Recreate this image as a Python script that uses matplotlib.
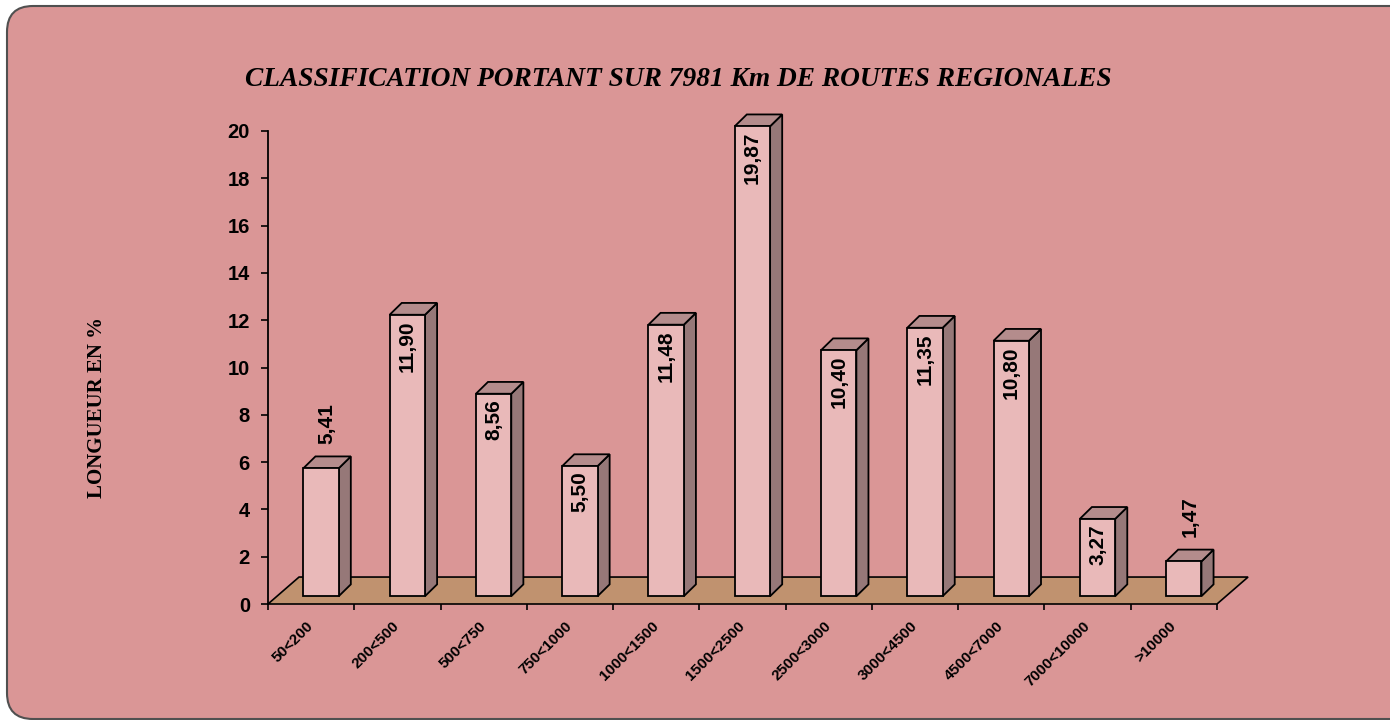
import matplotlib
matplotlib.use("Agg")
import matplotlib.pyplot as plt
from matplotlib.patches import Polygon, FancyBboxPatch

# data
categories = ["50<200", "200<500", "500<750", "750<1000", "1000<1500", "1500<2500",
              "2500<3000", "3000<4500", "4500<7000", "7000<10000", ">10000"]
values = [5.41, 11.90, 8.56, 5.50, 11.48, 19.87, 10.40, 11.35, 10.80, 3.27, 1.47]
value_labels = ["5,41", "11,90", "8,56", "5,50", "11,48", "19,87",
                "10,40", "11,35", "10,80", "3,27", "1,47"]
label_outside = [True, False, False, False, False, False,
                 False, False, False, False, True]
yticks = [0, 2, 4, 6, 8, 10, 12, 14, 16, 18, 20]

bg = "#DA9696"
front_c = "#E9B9B9"
side_c = "#967878"
top_c = "#B48C8C"
floor_c = "#C0926F"

fig = plt.figure(figsize=(13.9, 7.2), dpi=100)
fig.patch.set_facecolor("white")

# rounded frame (display pixels)
frame = FancyBboxPatch((7, 1), 1420, 713, boxstyle="round,pad=0,rounding_size=26",
                       transform=None, facecolor=bg, edgecolor="#505050",
                       linewidth=1.5, zorder=-5)
fig.patches.append(frame)

ax = fig.add_axes([268 / 1390, 116 / 720, (1217 - 268) / 1390, (604 - 131) / 720])
ax.set_facecolor("none")
ax.set_zorder(2)
ax.set_xlim(0, len(categories))
ax.set_ylim(0, 20)

# floor
fdx, fdy = 0.36, 1.14
floor = Polygon([(0, 0), (len(categories), 0), (len(categories) + fdx, fdy), (fdx, fdy)],
                closed=True, facecolor=floor_c, edgecolor="black", linewidth=1.2,
                clip_on=False, zorder=1)
ax.add_patch(floor)

# 3d bars
left_off, width = 0.41, 0.41
base = 0.33
ddx, ddy = 0.14, 0.5
for i, v in enumerate(values):
    x0 = i + left_off
    x1 = x0 + width
    y1 = base + v
    front = Polygon([(x0, base), (x1, base), (x1, y1), (x0, y1)], closed=True,
                    facecolor=front_c, edgecolor="black", linewidth=1.3,
                    clip_on=False, zorder=3)
    side = Polygon([(x1, base), (x1 + ddx, base + ddy), (x1 + ddx, y1 + ddy), (x1, y1)],
                   closed=True, facecolor=side_c, edgecolor="black", linewidth=1.3,
                   clip_on=False, zorder=3)
    top = Polygon([(x0, y1), (x1, y1), (x1 + ddx, y1 + ddy), (x0 + ddx, y1 + ddy)],
                  closed=True, facecolor=top_c, edgecolor="black", linewidth=1.3,
                  clip_on=False, zorder=3)
    for p in (side, top, front):
        ax.add_patch(p)
    if label_outside[i]:
        ax.annotate(value_labels[i], (x0 + (width + ddx) / 2, y1 + ddy),
                    xytext=(0, 9), textcoords="offset points", rotation=90,
                    ha="center", va="bottom", fontsize=15, fontweight="bold",
                    family="Liberation Sans", zorder=5, annotation_clip=False)
    else:
        ax.annotate(value_labels[i], (x0 + width / 2, y1),
                    xytext=(0, -4), textcoords="offset points", rotation=90,
                    ha="center", va="top", fontsize=15, fontweight="bold",
                    family="Liberation Sans", zorder=5, annotation_clip=False)

# axes styling
for s in ("top", "right", "bottom"):
    ax.spines[s].set_visible(False)
ax.spines["left"].set_linewidth(1.3)
ax.spines["left"].set_zorder(4)

ax.set_yticks(yticks)
ax.set_yticklabels([str(t) for t in yticks], fontsize=14.5, fontweight="bold",
                   family="Liberation Sans")
ax.tick_params(axis="y", length=5, width=1.2, pad=8)

ax.set_xticks(range(len(categories) + 1))
ax.set_xticklabels([])
ax.tick_params(axis="x", which="major", length=4, width=1.2)
ax.set_xticks([i + 0.5 for i in range(len(categories))], minor=True)
ax.set_xticklabels(categories, minor=True, rotation=45, ha="right",
                   rotation_mode="anchor", va="center", fontsize=11,
                   fontweight="bold", family="Liberation Sans")
ax.tick_params(axis="x", which="minor", length=0, pad=14)

fig.text(678 / 1390, 1 - 79 / 720, "CLASSIFICATION PORTANT SUR 7981 Km DE ROUTES REGIONALES",
         ha="center", va="center", fontsize=19.7, fontweight="bold", style="italic",
         family="Liberation Serif")
fig.text(97 / 1390, 1 - 408 / 720, "LONGUEUR EN %", rotation=90, ha="center",
         va="center", fontsize=15, fontweight="bold", family="Liberation Serif")

fig.savefig("out.png", dpi=100, facecolor=fig.get_facecolor())
